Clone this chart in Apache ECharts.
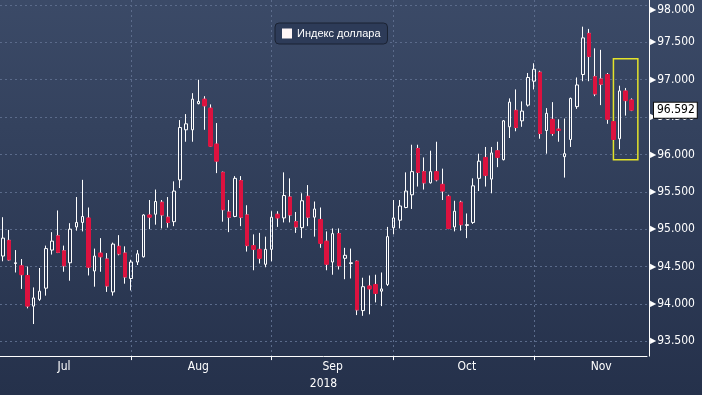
<!DOCTYPE html>
<html><head><meta charset="utf-8">
<script src="https://cdn.jsdelivr.net/npm/echarts@6/dist/echarts.min.js"></script>
<style>html,body{margin:0;padding:0;background:#2a3752;}#c{width:702px;height:395px;}</style>
</head><body><div id="c"></div>
<script>
// ---------- data ----------
const seriesName = 'Индекс доллара';
const yearLabel = '2018';
const monthNames = ['Jan','Feb','Mar','Apr','May','Jun','Jul','Aug','Sep','Oct','Nov','Dec'];
const firstDate = '2018-07-03';
const lastDate = '2018-11-27';
const openV = [94.64,94.85,94.54,94.51,94.38,93.97,94.06,94.21,94.72,94.91,94.71,94.55,95.03,95.09,95.15,94.44,94.68,94.60,94.16,94.77,94.68,
  94.34,94.56,94.63,95.19,95.20,95.36,95.16,95.10,95.66,96.33,96.33,96.68,96.74,96.62,96.14,95.76,95.23,95.17,95.65,95.19,94.78,94.73,94.53,
  94.73,95.20,95.15,95.43,95.10,95.02,95.44,95.16,95.13,94.84,94.56,94.94,94.61,94.54,94.57,93.91,94.24,94.26,94.17,94.26,
  95.02,95.12,95.29,95.46,96.08,95.77,95.62,95.77,95.60,95.44,95.03,95.36,95.05,95.09,95.68,95.96,95.67,96.05,95.93,96.37,96.59,96.45,96.66,
  96.98,97.10,96.32,96.47,96.34,95.97,96.20,96.64,97.07,97.62,97.04,97.01,97.07,96.44,96.21,96.85,96.73];
const closeV = [94.88,94.59,94.55,94.39,93.97,94.08,94.17,94.74,94.84,94.69,94.51,95.00,95.09,95.17,94.49,94.64,94.63,94.24,94.80,94.67,94.36,
  94.56,94.67,95.19,95.16,95.37,95.19,95.09,95.51,96.36,96.41,96.74,96.71,96.65,96.11,95.91,95.26,95.16,95.68,95.16,94.78,94.73,94.61,94.73,
  95.16,95.15,95.45,95.19,95.03,95.38,95.16,95.27,94.81,94.53,94.94,94.51,94.65,94.55,93.92,94.23,94.20,94.14,94.20,94.90,
  95.15,95.31,95.51,95.77,95.76,95.62,95.77,95.66,95.51,95.01,95.24,95.06,95.06,95.58,95.91,95.72,96.02,95.96,96.45,96.70,96.36,96.58,97.03,
  97.14,96.28,96.55,96.28,96.32,96.01,96.75,96.93,97.56,97.31,96.81,96.94,96.47,96.20,96.85,96.72,96.592];
const lowV = [94.57,94.58,94.42,94.20,93.94,93.73,94.04,94.11,94.66,94.68,94.43,94.31,94.98,94.97,94.38,94.23,94.43,94.16,94.11,94.65,94.27,
  94.18,94.52,94.62,95.00,95.06,95.01,95.02,95.04,95.55,96.17,96.17,96.67,96.33,96.10,95.75,95.10,94.96,95.16,95.04,94.70,94.45,94.54,94.49,
  94.57,95.03,95.09,95.09,94.95,94.88,95.04,94.90,94.75,94.45,94.39,94.46,94.33,94.34,93.85,93.84,93.86,94.02,93.97,94.24,
  94.93,95.01,95.28,95.27,95.57,95.53,95.61,95.64,95.39,95.00,94.97,94.98,94.88,95.07,95.51,95.57,95.48,95.83,95.92,96.22,96.31,96.37,96.64,
  96.87,96.21,96.01,96.25,96.17,95.69,96.10,96.61,96.98,96.98,96.78,96.66,96.41,96.19,96.07,96.52,96.58];
const highV = [95.16,94.99,94.72,94.60,94.50,94.22,94.48,94.78,94.96,95.25,94.78,95.08,95.43,95.66,95.29,94.74,94.88,94.68,94.82,94.92,94.77,
  94.59,94.72,95.20,95.39,95.53,95.39,95.43,95.64,96.46,96.54,96.82,97.00,96.78,96.67,96.42,95.77,95.39,95.71,95.71,95.32,94.93,94.95,94.90,
  95.24,95.24,95.76,95.68,95.23,95.48,95.59,95.37,95.29,94.97,95.01,95.01,94.75,94.74,94.58,94.35,94.38,94.39,94.42,95.03,
  95.39,95.39,95.76,96.13,96.13,95.96,96.05,96.17,95.81,95.46,95.38,95.38,95.21,95.68,96.01,96.10,96.10,96.17,96.46,96.75,96.87,96.71,97.09,
  97.22,97.12,96.62,96.70,96.47,96.48,96.76,97.03,97.71,97.68,97.42,97.40,97.09,96.45,96.92,96.89,96.75];
const lastValue = 96.592;
const yRange = [93.301, 98.067];
const highlightFrom = 100, highlightTo = 104;   // category indices of the yellow frame
const highlightRange = [95.93, 97.28];

// ---------- helpers ----------
function ymd(t){const d=new Date(t);return d.toISOString().slice(0,10);}
function weekdays(a,b){const out=[];let t=Date.parse(a+'T00:00:00Z');const e=Date.parse(b+'T00:00:00Z');
  while(t<=e){const w=new Date(t).getUTCDay();if(w!==0&&w!==6)out.push(ymd(t));t+=86400000;}return out;}
function weekdayIndex(dateStr){
  const t0=Date.parse(firstDate+'T00:00:00Z'), t=Date.parse(dateStr+'T00:00:00Z');
  if(t>=t0) return weekdays(firstDate,dateStr).length-1;
  return -(weekdays(dateStr,firstDate).length-1);
}
const dates = weekdays(firstDate,lastDate);
const candles = openV.map((o,i)=>[o,closeV[i],lowV[i],highV[i]]);
const bodies = openV.map((o,i)=>[o,closeV[i],Math.min(o,closeV[i]),Math.max(o,closeV[i])]);

const monthStart = new Set();
dates.forEach((d,i)=>{ if(i>0 && d.slice(5,7)!==dates[i-1].slice(5,7)) monthStart.add(i); });
const labelIdx = {};
for(let m=7;m<=11;m++){
  const s=weekdayIndex('2018-'+String(m).padStart(2,'0')+'-01');
  const e=weekdayIndex('2018-'+String(m+1).padStart(2,'0')+'-01');
  labelIdx[Math.round((s+e)/2)] = monthNames[m-1];
}

const FONT = "'DejaVu Sans Condensed','DejaVu Sans',sans-serif";
const RED = '#dc123f';
const GRIDC = '#5b6b8b';

const chart = echarts.init(document.getElementById('c'), null, {renderer:'canvas'});
chart.setOption({
  animation:false,
  backgroundColor:{type:'linear',x:0,y:0,x2:0,y2:1,colorStops:[{offset:0,color:'#3b4a67'},{offset:1,color:'#25314b'}]},
  legend:{
    left:275, top:23, padding:[5,7,5,7], itemWidth:10, itemHeight:10,
    backgroundColor:'#2d3b58', borderColor:'#1a2232', borderWidth:1, borderRadius:4,
    data:[{name:seriesName, icon:'rect', itemStyle:{color:'#fff6f6', borderWidth:0}}],
    textStyle:{color:'#ffffff', fontSize:11, fontFamily:"'Liberation Sans',Arial,sans-serif"},
    selectedMode:false
  },
  grid:{left:0, top:0, width:647, height:359},
  xAxis:{
    type:'category', data:dates, boundaryGap:true,
    name:yearLabel, nameLocation:'middle', nameGap:20,
    nameTextStyle:{color:'#fff', fontSize:12, fontFamily:FONT},
    axisLine:{show:true, lineStyle:{color:'#ffffff', width:1}},
    axisTick:{show:true, alignWithLabel:true, length:4, interval:(i)=>monthStart.has(i), lineStyle:{color:'#fff'}},
    axisLabel:{show:true, interval:(i)=>labelIdx[i]!==undefined, formatter:(v,i)=>labelIdx[i]||'', color:'#fff', fontSize:12, margin:5, fontFamily:FONT},
    splitLine:{show:true, alignWithLabel:true, interval:(i)=>monthStart.has(i), lineStyle:{color:GRIDC, type:[2,3], width:1}}
  },
  yAxis:{
    type:'value', position:'right', offset:2, min:yRange[0], max:yRange[1],
    splitNumber:9, minInterval:0.5, maxInterval:0.5,
    axisLine:{show:true, lineStyle:{color:'#ffffff', width:1}},
    axisTick:{show:false},
    axisLabel:{show:true, margin:1, showMinLabel:false, showMaxLabel:false, color:'#fff', fontSize:12, fontFamily:FONT,
      formatter:(v)=> (Math.abs(v-98)<1e-6 ? '{at|▶}{t|'+v.toFixed(3)+'}' : '{a|▶}{b|'+v.toFixed(3)+'}'),
      rich:{a:{fontSize:8, color:'#fff', padding:[0,1,0,0], fontFamily:'DejaVu Sans'},
            at:{fontSize:8, color:'#fff', padding:[9,1,0,0], fontFamily:'DejaVu Sans'},
            b:{fontSize:12, color:'#fff', fontFamily:FONT},
            t:{fontSize:12, color:'#fff', fontFamily:FONT, padding:[9,0,0,0]}}},
    splitLine:{show:true, showMinLine:false, showMaxLine:false, lineStyle:{color:GRIDC, type:[2,3], width:1}}
  },
  series:[
    {
      name:seriesName, type:'candlestick', data:candles, barWidth:3,
      itemStyle:{color:'rgba(0,0,0,0)', color0:RED, borderColor:'#ffffff', borderColor0:'#ffffff', borderWidth:1},
      emphasis:{disabled:true}, silent:true, z:2
    },
    {
      name:'bodies', type:'candlestick', data:bodies, barWidth:4, clip:false,
      itemStyle:{color:'rgba(0,0,0,0)', borderColor:'rgba(0,0,0,0)', color0:RED, borderColor0:RED, borderWidth:1},
      emphasis:{disabled:true}, silent:true, z:3,
      markArea:{silent:true, itemStyle:{color:'rgba(0,0,0,0)', borderColor:'#e3e32a', borderWidth:1.5},
        data:[[{xAxis:dates[highlightFrom], yAxis:highlightRange[1]},{xAxis:dates[highlightTo], yAxis:highlightRange[0]}]]},
      markLine:{silent:true, symbol:['none','none'], lineStyle:{color:'rgba(0,0,0,0)', width:0, opacity:1},
        data:[{yAxis:lastValue}],
        label:{show:true, position:'end', distance:7, formatter:()=>lastValue.toFixed(3), opacity:1,
          color:'#000', backgroundColor:'#ffffff', borderColor:'#111', borderWidth:1, padding:[2,2,1,3],
          fontSize:12, fontFamily:FONT}}
    }
  ]
});
</script></body></html>
